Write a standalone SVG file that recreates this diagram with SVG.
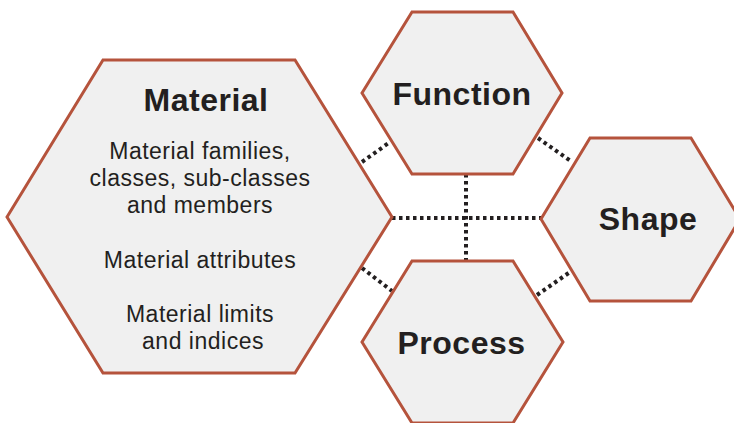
<svg xmlns="http://www.w3.org/2000/svg" width="734" height="423" viewBox="0 0 734 423">
<style>
.hex{fill:#f0f0f0;stroke:#b5533c;stroke-width:3;stroke-linejoin:miter}
.con{stroke:#231f20;stroke-width:4;stroke-dasharray:3.5 3.5;fill:none}
.title{font-family:"Liberation Sans",Arial,sans-serif;font-weight:bold;font-size:32px;letter-spacing:0.5px;fill:#231f20;text-anchor:middle}
.body{font-family:"Liberation Sans",Arial,sans-serif;font-size:23px;letter-spacing:0.5px;fill:#231f20;text-anchor:middle}
</style>
<rect width="734" height="423" fill="#ffffff"/>
<g id="connectors">
<line class="con" x1="392" y1="218" x2="541" y2="218"/>
<line class="con" x1="466" y1="174" x2="466" y2="261"/>
<line class="con" x1="362" y1="162" x2="390" y2="142"/>
<line class="con" x1="538" y1="138" x2="572" y2="162"/>
<line class="con" x1="362" y1="268" x2="392" y2="291"/>
<line class="con" x1="537" y1="295" x2="570" y2="272"/>
</g>
<g id="material">
<polygon class="hex" points="7,217 103,60 295,60 392,217 295,373 103,373"/>
<text class="title" x="206" y="111">Material</text>
<text class="body" x="200" y="159">Material families,</text>
<text class="body" x="200" y="186">classes, sub-classes</text>
<text class="body" x="200" y="213">and members</text>
<text class="body" x="200" y="268">Material attributes</text>
<text class="body" x="200" y="322">Material limits</text>
<text class="body" x="203" y="349">and indices</text>
</g>
<g id="function">
<polygon class="hex" points="362,93 412,12 513,12 562,93 513,174 412,174"/>
<text class="title" x="462" y="105">Function</text>
</g>
<g id="shape">
<polygon class="hex" points="541,219 590,138 691,138 740,219 691,301 590,301"/>
<text class="title" x="648" y="230">Shape</text>
</g>
<g id="process">
<polygon class="hex" points="362,342 412,261 513,261 563,342 513,423 412,423"/>
<text class="title" x="461.5" y="354">Process</text>
</g>
</svg>
